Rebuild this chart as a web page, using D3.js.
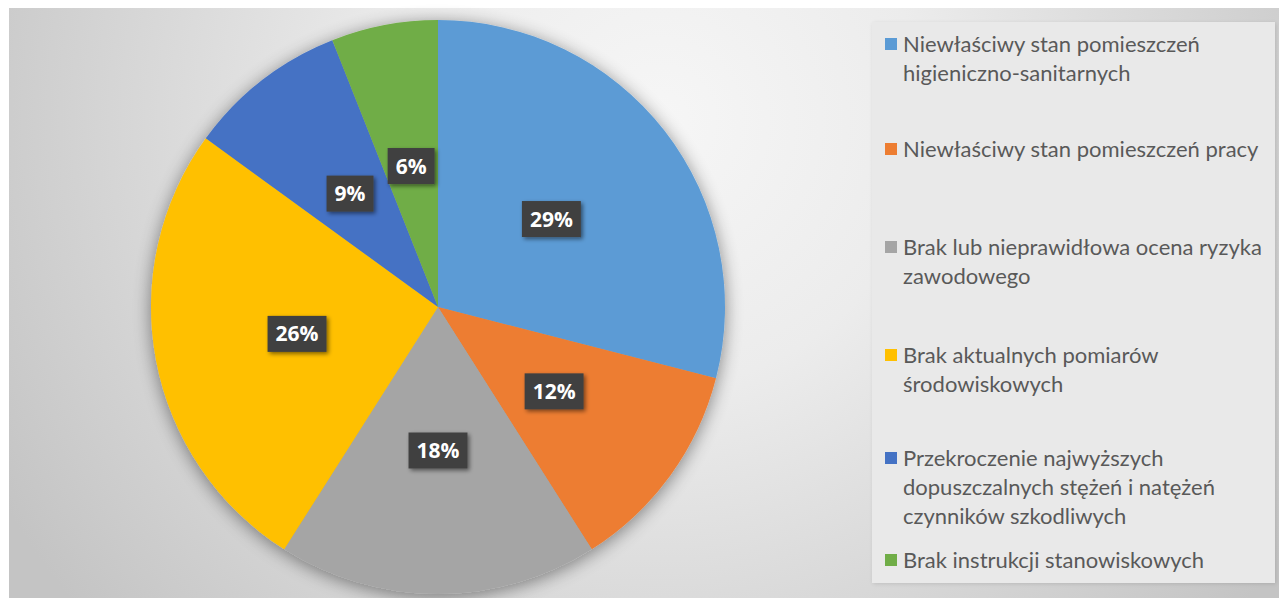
<!DOCTYPE html>
<html><head><meta charset="utf-8">
<script src="https://cdn.jsdelivr.net/npm/d3@7"></script>
<style>html,body{margin:0;padding:0;background:#fff;}svg{display:block;}</style>
</head><body>
<svg id="chart" width="1279" height="598"></svg>
<script>
const categories = [
  "Niewłaściwy stan pomieszczeń higieniczno-sanitarnych",
  "Niewłaściwy stan pomieszczeń pracy",
  "Brak lub nieprawidłowa ocena ryzyka zawodowego",
  "Brak aktualnych pomiarów środowiskowych",
  "Przekroczenie najwyższych dopuszczalnych stężeń i natężeń czynników szkodliwych",
  "Brak instrukcji stanowiskowych"
];
const legendLines = [
  ["Niewłaściwy stan pomieszczeń", "higieniczno-sanitarnych"],
  ["Niewłaściwy stan pomieszczeń pracy"],
  ["Brak lub nieprawidłowa ocena ryzyka", "zawodowego"],
  ["Brak aktualnych pomiarów", "środowiskowych"],
  ["Przekroczenie najwyższych", "dopuszczalnych stężeń i natężeń", "czynników szkodliwych"],
  ["Brak instrukcji stanowiskowych"]
];
const values = [29, 12, 18, 26, 9, 6];
const colors = ["#5B9BD5", "#ED7D31", "#A5A5A5", "#FFC000", "#4472C4", "#70AD47"];

const svg = d3.select("#chart");
const defs = svg.append("defs");

const bg = defs.append("radialGradient").attr("id", "bgGrad")
  .attr("gradientUnits", "userSpaceOnUse")
  .attr("cx", 660).attr("cy", 120).attr("r", 760);
bg.append("stop").attr("offset", "0").attr("stop-color", "#f6f6f6");
bg.append("stop").attr("offset", "0.35").attr("stop-color", "#ececec");
bg.append("stop").attr("offset", "1").attr("stop-color", "#c4c4c4");

const pieShadow = defs.append("filter").attr("id", "pieShadow")
  .attr("x", "-20%").attr("y", "-20%").attr("width", "140%").attr("height", "140%");
pieShadow.append("feGaussianBlur").attr("in", "SourceAlpha").attr("stdDeviation", 9).attr("result", "b");
pieShadow.append("feOffset").attr("in", "b").attr("dx", 0).attr("dy", 3).attr("result", "o");
pieShadow.append("feComponentTransfer").attr("in", "o").attr("result", "oa")
  .append("feFuncA").attr("type", "linear").attr("slope", 0.45);
const m1 = pieShadow.append("feMerge");
m1.append("feMergeNode").attr("in", "oa");
m1.append("feMergeNode").attr("in", "SourceGraphic");

const boxShadow = defs.append("filter").attr("id", "boxShadow")
  .attr("x", "-30%").attr("y", "-30%").attr("width", "160%").attr("height", "160%");
boxShadow.append("feGaussianBlur").attr("in", "SourceAlpha").attr("stdDeviation", 2).attr("result", "b");
boxShadow.append("feOffset").attr("in", "b").attr("dx", 2).attr("dy", 2).attr("result", "o");
boxShadow.append("feComponentTransfer").attr("in", "o").attr("result", "oa")
  .append("feFuncA").attr("type", "linear").attr("slope", 0.5);
const m2 = boxShadow.append("feMerge");
m2.append("feMergeNode").attr("in", "oa");
m2.append("feMergeNode").attr("in", "SourceGraphic");

const legShadow = defs.append("filter").attr("id", "legShadow")
  .attr("x", "-5%").attr("y", "-5%").attr("width", "110%").attr("height", "110%");
legShadow.append("feGaussianBlur").attr("in", "SourceAlpha").attr("stdDeviation", 2).attr("result", "b");
legShadow.append("feOffset").attr("in", "b").attr("dx", 1).attr("dy", 1).attr("result", "o");
legShadow.append("feComponentTransfer").attr("in", "o").attr("result", "oa")
  .append("feFuncA").attr("type", "linear").attr("slope", 0.12);
const m3 = legShadow.append("feMerge");
m3.append("feMergeNode").attr("in", "oa");
m3.append("feMergeNode").attr("in", "SourceGraphic");

// chart area background
svg.append("rect").attr("x", 9).attr("y", 8).attr("width", 1270).attr("height", 590)
  .attr("fill", "url(#bgGrad)");

// pie
const cx = 438, cy = 307, R = 287;
const pie = d3.pie().sort(null).value(d => d)(values);
const arc = d3.arc().innerRadius(0).outerRadius(R);
const labelArc = d3.arc().innerRadius(R * 0.5).outerRadius(R * 0.5);

const g = svg.append("g").attr("transform", `translate(${cx},${cy})`);
g.append("g").attr("filter", "url(#pieShadow)")
  .selectAll("path").data(pie).join("path")
  .attr("d", arc)
  .attr("fill", (d, i) => colors[i]);

const total = d3.sum(values);
const fmt = d => Math.round(d.data / total * 100) + "%";
const labels = g.append("g").selectAll("g").data(pie).join("g")
  .attr("transform", d => `translate(${labelArc.centroid(d)})`);
labels.each(function(d) {
  const sel = d3.select(this);
  const t = sel.append("text")
    .attr("text-anchor", "middle").attr("dy", "0.36em")
    .attr("font-family", "'Open Sans', sans-serif").attr("font-weight", 700)
    .attr("font-size", 21).attr("fill", "#ffffff")
    .text(fmt(d));
  const w = t.node().getComputedTextLength();
  sel.insert("rect", "text")
    .attr("x", -w / 2 - 8).attr("y", -18).attr("width", w + 16).attr("height", 36)
    .attr("fill", "#404040").attr("filter", "url(#boxShadow)");
});

// legend
svg.append("rect").attr("x", 872).attr("y", 22).attr("width", 403).attr("height", 561)
  .attr("fill", "#e9e9e9").attr("filter", "url(#legShadow)");

const legY = [44, 149, 247, 355, 458, 560];
const lineH = 29;
const leg = svg.append("g").selectAll("g").data(categories).join("g")
  .attr("transform", (d, i) => `translate(885,${legY[i]})`);
leg.append("rect").attr("x", 0).attr("y", -6).attr("width", 12).attr("height", 12)
  .attr("fill", (d, i) => colors[i]);
leg.append("text")
  .attr("x", 18).attr("y", 0)
  .attr("font-family", "Lato, 'Open Sans', sans-serif").attr("font-size", 22)
  .attr("fill", "#595959")
  .selectAll("tspan").data((d, i) => legendLines[i]).join("tspan")
  .attr("x", 18).attr("dy", (d, j) => j === 0 ? "0.35em" : lineH)
  .text(d => d);
</script>
</body></html>
